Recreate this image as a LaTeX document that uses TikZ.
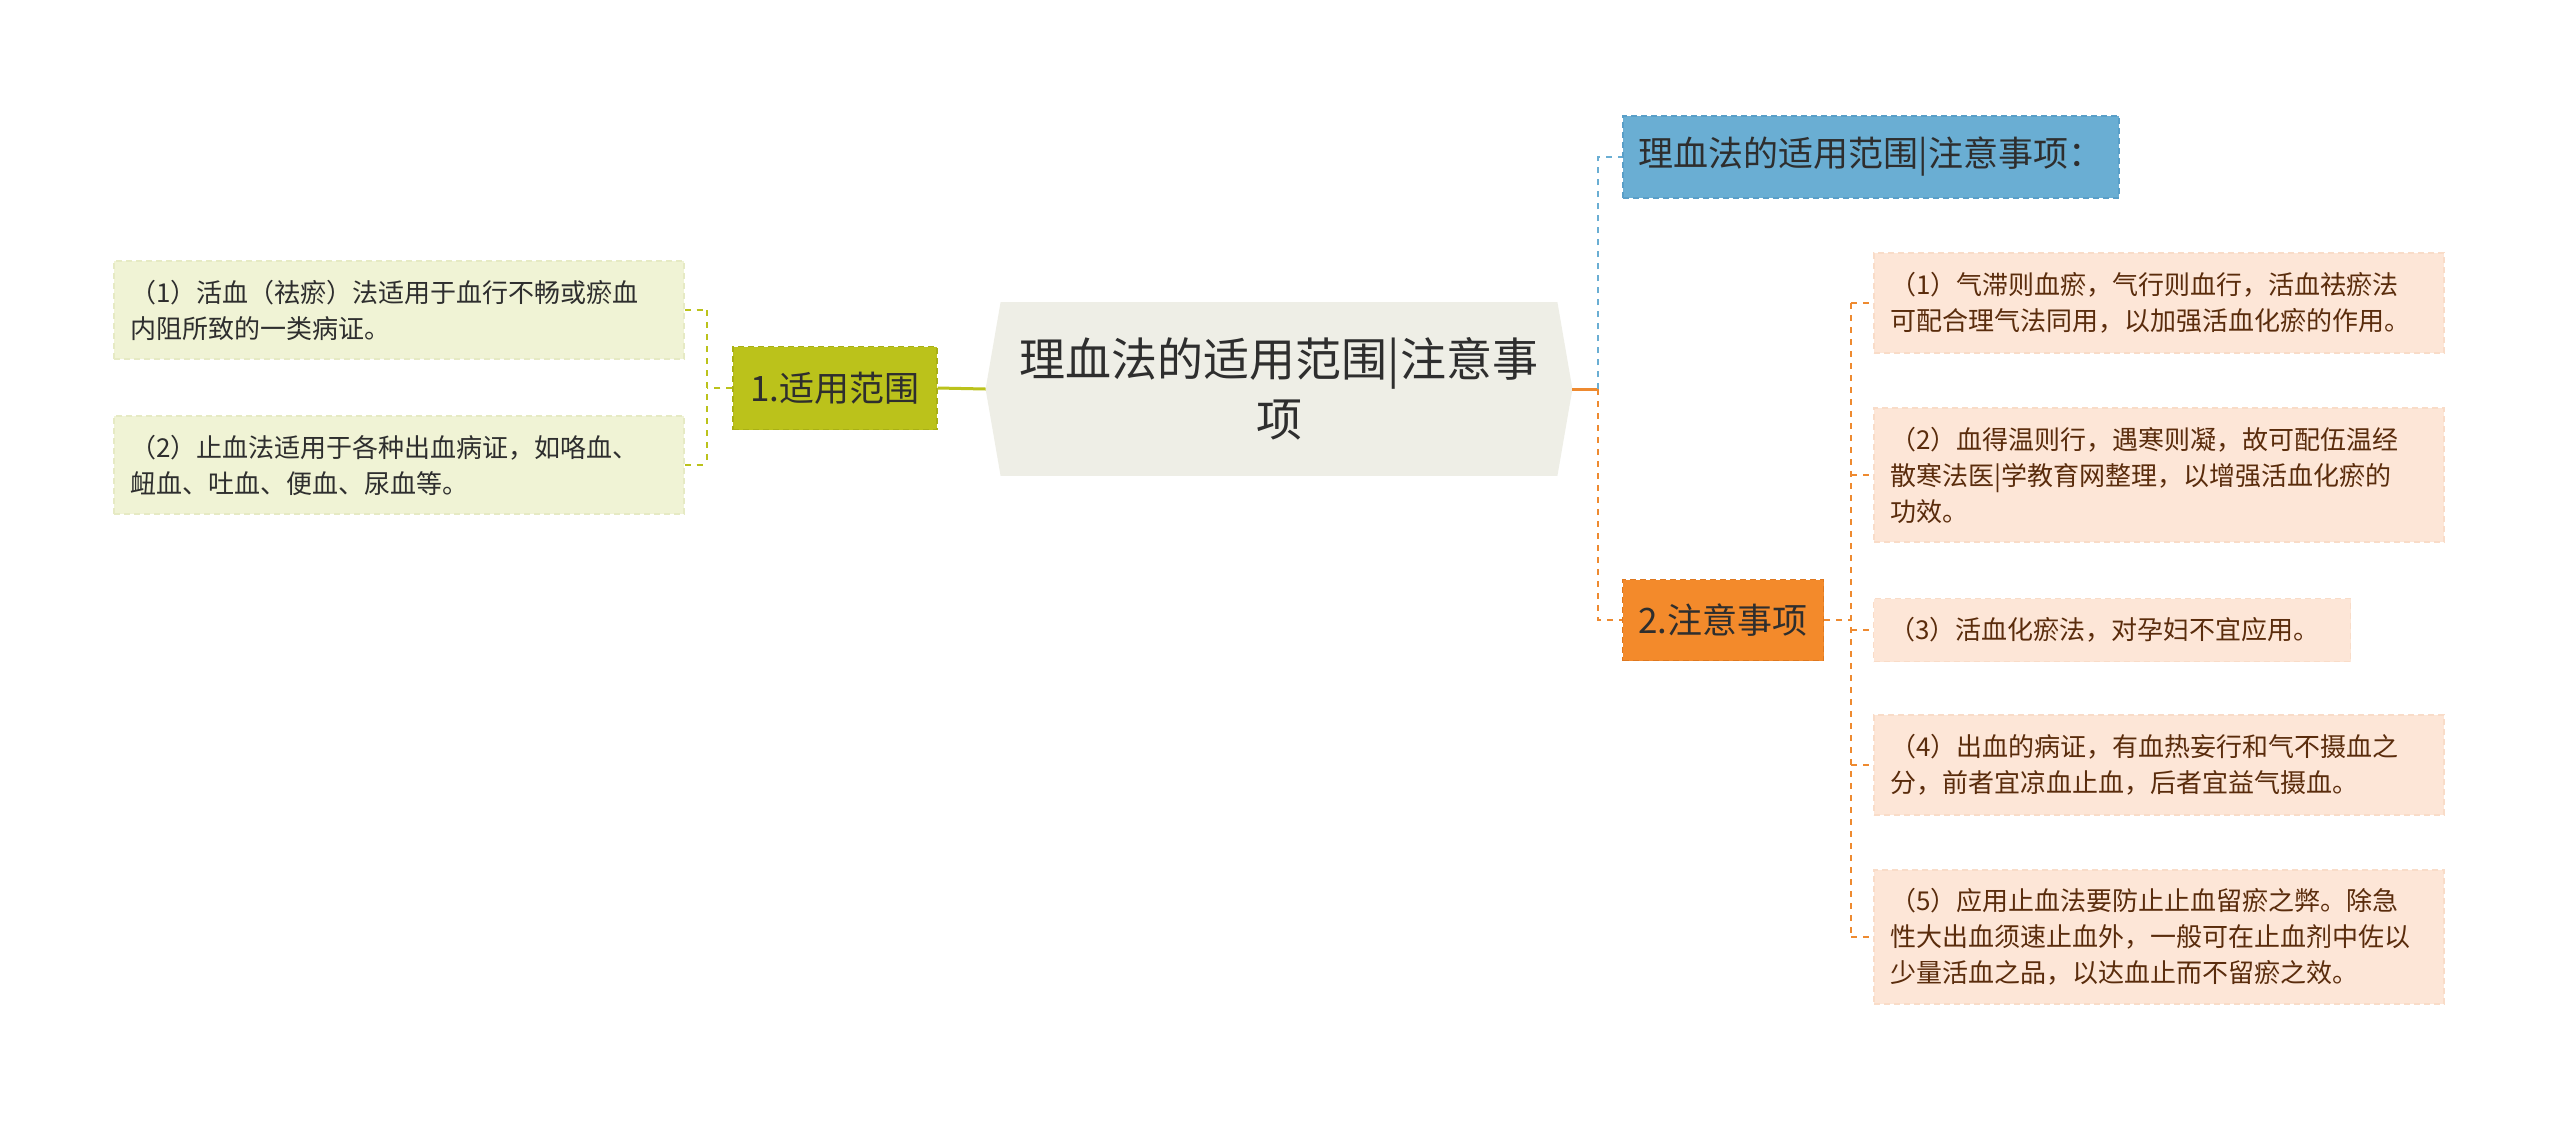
\documentclass[tikz,border=0pt]{standalone}
\usepackage{fontspec}
\setmainfont{Noto Sans CJK SC}
\usetikzlibrary{backgrounds}
\definecolor{leafLfill}{HTML}{F0F3D5}
\definecolor{leafLline}{HTML}{E6EAC4}
\definecolor{oliveA}{HTML}{BBC21B}
\definecolor{oliveB}{HTML}{A9B016}
\definecolor{rootfill}{HTML}{EEEEE6}
\definecolor{blueA}{HTML}{6AAED3}
\definecolor{blueB}{HTML}{5A9FC8}
\definecolor{orangeA}{HTML}{F38A2B}
\definecolor{orangeB}{HTML}{DE7820}
\definecolor{orangeL}{HTML}{EE8A30}
\definecolor{leafRfill}{HTML}{FDE6D7}
\definecolor{leafRline}{HTML}{F9DCC8}
\definecolor{leafRtext}{HTML}{5A2C0C}
\definecolor{darktext}{HTML}{2E2E2E}
\newcommand\leaffont{\fontsize{13pt}{18pt}\selectfont}
\newcommand\branchfont{\fontsize{17.5pt}{21pt}\selectfont}
\newcommand\rootfont{\fontsize{23pt}{30pt}\selectfont}
\tikzset{
  boxdash/.style={dash pattern=on 3pt off 2pt, line width=0.6pt},
  leafL/.style={fill=leafLfill, draw=leafLline, boxdash, inner xsep=8pt, inner ysep=0pt,
    text width=269pt, align=left, font=\leaffont, text=darktext},
  leafR/.style={fill=leafRfill, draw=leafRline, boxdash, inner xsep=8pt, inner ysep=0pt,
    text width=269pt, align=left, font=\leaffont, text=leafRtext},
  branchbox/.style={boxdash, inner sep=0pt, font=\branchfont, text=darktext, align=center},
  rootnode/.style={inner sep=0pt, minimum width=293pt, minimum height=86.5pt, align=center,
    font=\rootfont, text=darktext},
  olivedash/.style={draw=oliveA, line width=1.1pt, dash pattern=on 3pt off 3pt},
  orangedash/.style={draw=orangeL, line width=1.1pt, dash pattern=on 3pt off 3pt},
  bluedash/.style={draw=blueA, line width=1.1pt, dash pattern=on 3pt off 3pt},
}
\begin{document}
\begin{tikzpicture}[x=0.5pt,y=-0.5pt]
\useasboundingbox (0,0) rectangle (2560,1120);
% root
\node[rootnode] (root) at (1279,389) {理血法的适用范围|注意事\\项};
\begin{scope}[on background layer]
\fill[white] (0,0) rectangle (2560,1120);
\fill[rootfill] (root.west) -- ([xshift=7.5pt]root.north west) -- ([xshift=-7.5pt]root.north east)
  -- (root.east) -- ([xshift=-7.5pt]root.south east) -- ([xshift=7.5pt]root.south west) -- cycle;
\end{scope}
% left branch
\node[branchbox, fill=oliveA, draw=oliveB, minimum width=102pt, minimum height=41.5pt] (b1) at (835,388) {1.适用范围};
\node[leafL, minimum height=49pt] (l1) at (399,310) {（1）活血（祛瘀）法适用于血行不畅或瘀血\\内阻所致的一类病证。};
\node[leafL, minimum height=49pt] (l2) at (399,465) {（2）止血法适用于各种出血病证，如咯血、\\衄血、吐血、便血、尿血等。};
% right branches
\node[branchbox, fill=blueA, draw=blueB, minimum width=248pt, minimum height=41pt] (b0) at (1871,157) {理血法的适用范围|注意事项：};
\node[branchbox, fill=orangeA, draw=orangeB, minimum width=100.5pt, minimum height=40.5pt] (b2) at (1723,620) {2.注意事项};
\node[leafR, minimum height=50pt] (r1) at (2159,303) {（1）气滞则血瘀，气行则血行，活血祛瘀法\\可配合理气法同用，以加强活血化瘀的作用。};
\node[leafR, minimum height=67pt] (r2) at (2159,475) {（2）血得温则行，遇寒则凝，故可配伍温经\\散寒法医|学教育网整理，以增强活血化瘀的\\功效。};
\node[leafR, minimum height=31.5pt, text width=222.5pt] (r3) at (2112,630) {（3）活血化瘀法，对孕妇不宜应用。};
\node[leafR, minimum height=50pt] (r4) at (2159,765) {（4）出血的病证，有血热妄行和气不摄血之\\分，前者宜凉血止血，后者宜益气摄血。};
\node[leafR, minimum height=67pt] (r5) at (2159,937) {（5）应用止血法要防止止血留瘀之弊。除急\\性大出血须速止血外，一般可在止血剂中佐以\\少量活血之品，以达血止而不留瘀之效。};
% trunk coordinates
\coordinate (lk) at (707,0);
\coordinate (rk) at (1598,0);
\coordinate (rk2) at (1851,0);
% left connectors
\draw[oliveA, line width=1.5pt] (root.west) -- (b1.east);
\draw[olivedash] (b1.west) -- (lk |- b1.west);
\draw[olivedash] (lk |- l1.east) -- (lk |- l2.east);
\draw[olivedash] (l1.east) -- (lk |- l1.east);
\draw[olivedash] (l2.east) -- (lk |- l2.east);
% right connectors
\draw[orangeL, line width=1.5pt] (root.east) -- (rk |- root.east);
\draw[bluedash] (rk |- root.east) |- (b0.west);
\draw[orangedash] (rk |- root.east) |- (b2.west);
\draw[orangedash] (b2.east) -- (rk2 |- b2.east);
\draw[orangedash] (rk2 |- r1.west) -- (rk2 |- r5.west);
\foreach \n in {r1,r2,r3,r4,r5} {
  \draw[orangedash] (rk2 |- \n.west) -- (\n.west);
}
\end{tikzpicture}
\end{document}
